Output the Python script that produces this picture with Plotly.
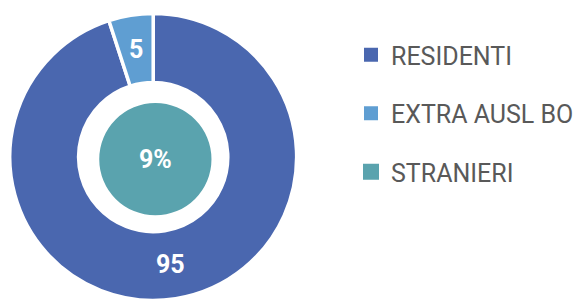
import plotly.graph_objects as go

ring_labels = ["RESIDENTI", "EXTRA AUSL BO"]
ring_values = [95, 5]
ring_text = ["95", "5"]
inner_labels = ["STRANIERI"]
inner_values = [9]
inner_text = ["9%"]
legend_labels = ring_labels + inner_labels
legend_sizes = [14, 14, 16]

c_res = "#4A67AF"
c_ext = "#5F9ED2"
c_str = "#5AA3AE"
colors = [c_res, c_ext, c_str]

W, H = 579, 304

def dom(cx, cy, r):
    clamp = lambda v: min(1.0, max(0.0, v))
    return dict(x=[clamp((cx - r) / W), clamp((cx + r) / W)],
                y=[clamp(1 - (cy + r) / H), clamp(1 - (cy - r) / H)])

label_font = dict(family="Roboto", size=25, color="white", weight="bold")

fig = go.Figure()
# outer ring (label only on the big slice)
fig.add_trace(go.Pie(
    labels=ring_labels, values=ring_values, text=[ring_text[0], ""],
    textinfo="text", textposition="inside", insidetextorientation="horizontal",
    sort=False, direction="clockwise", rotation=0, hole=0.52,
    marker=dict(colors=[c_res, c_ext], line=dict(color="white", width=3.5)),
    textfont=label_font,
    domain=dom(157, 157, 147), showlegend=False, hoverinfo="label+value",
))
# transparent overlay carrying the small slice label nearer the ring middle
fig.add_trace(go.Pie(
    labels=ring_labels, values=ring_values, text=["", ring_text[1]],
    textinfo="text", textposition="inside", insidetextorientation="horizontal",
    sort=False, direction="clockwise", rotation=0, hole=0,
    marker=dict(colors=["rgba(0,0,0,0)", "rgba(0,0,0,0)"], line=dict(width=0)),
    textfont=label_font,
    domain=dom(157, 157, 128.5), showlegend=False, hoverinfo="skip",
))
# inner circle
fig.add_trace(go.Pie(
    labels=inner_labels, values=inner_values, text=inner_text,
    textinfo="text", textposition="inside", insidetextorientation="horizontal",
    sort=False, marker=dict(colors=[c_str], line=dict(width=0)),
    textfont=label_font,
    domain=dom(159.2, 159.2, 57.5), showlegend=False, hoverinfo="label",
))
for i, lab in enumerate(legend_labels):
    fig.add_trace(go.Scatter(
        x=[None], y=[None], mode="markers", name=lab, legendgroup=lab,
        marker=dict(symbol="square", size=legend_sizes[i], color=colors[i]),
        showlegend=True,
    ))

fig.update_layout(
    width=W, height=H, margin=dict(l=0, r=0, t=0, b=0),
    paper_bgcolor="white", plot_bgcolor="white",
    xaxis=dict(visible=False), yaxis=dict(visible=False),
    legend=dict(x=360 / W, y=1 - 32 / H, xanchor="left", yanchor="top",
                font=dict(family="Roboto", size=25, color="#595959"),
                tracegroupgap=23, bgcolor="rgba(0,0,0,0)"),
)
fig.write_html("out.html", config={"displayModeBar": False},
               post_script="document.body.style.margin='0';")
